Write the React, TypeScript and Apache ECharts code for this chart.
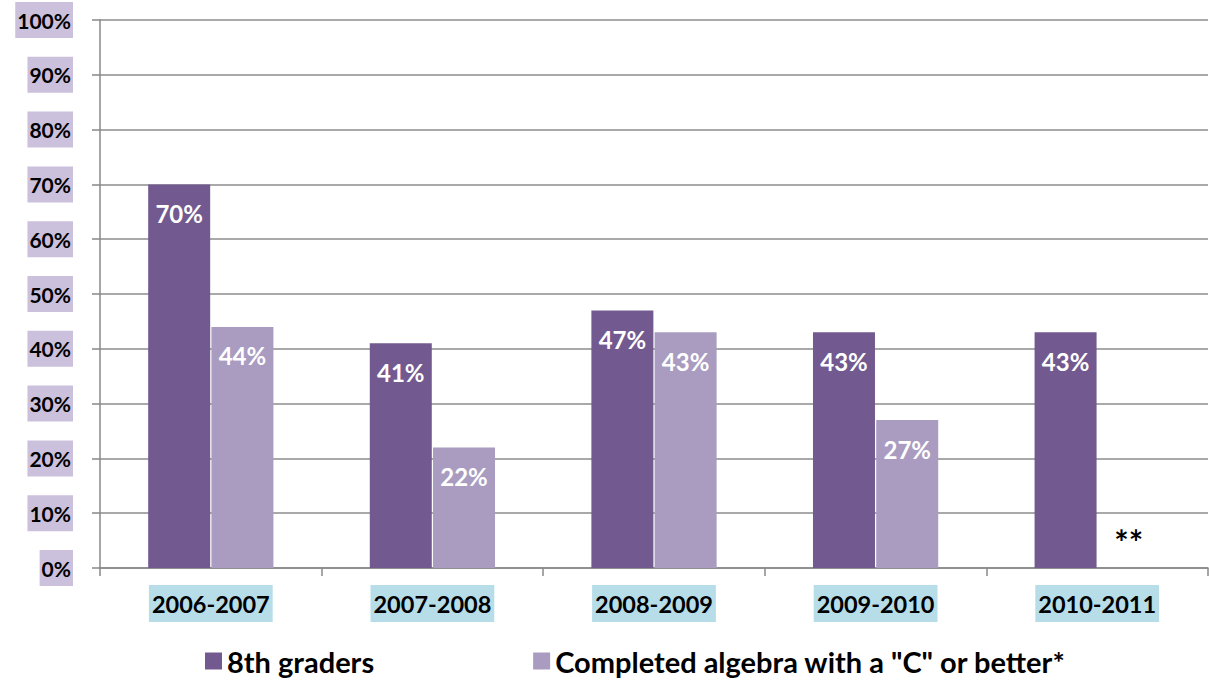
import React, { useEffect, useRef } from "react";
import * as echarts from "echarts";

const categories = ["2006-2007", "2007-2008", "2008-2009", "2009-2010", "2010-2011"];
const eighthGraders = [70, 41, 47, 43, 43];
const completedAlgebra = [44, 22, 43, 27, 0];
const missingLabel = "**";
const seriesNames = ["8th graders", 'Completed algebra with a "C" or better*'];

const FONT = "Lato, 'Open Sans', sans-serif";

export default function App() {
  const ref = useRef<HTMLDivElement>(null);
  useEffect(() => {
    if (!ref.current) return;
    const chart = echarts.init(ref.current, null, { renderer: "svg" });
    const lastIdx = completedAlgebra.length - 1;
    const dataLabel = {
      show: true,
      position: "insideTop",
      distance: 17,
      formatter: "{c}%",
      color: "#fff",
      fontFamily: FONT,
      fontWeight: "bold",
      fontSize: 24,
    };
    chart.setOption({
      animation: false,
      textStyle: { fontFamily: FONT },
      grid: { left: 100, right: 1, top: 20, bottom: 115, containLabel: false },
      legend: {
        left: 200,
        top: 641,
        itemWidth: 17,
        itemHeight: 17,
        itemGap: 159,
        icon: "rect",
        textStyle: {
          fontFamily: FONT,
          fontWeight: "bold",
          fontSize: 29,
          lineHeight: 30,
          color: "#000",
          verticalAlign: "middle",
        },
        data: seriesNames,
      },
      xAxis: {
        type: "category",
        data: categories,
        axisLine: { lineStyle: { color: "#888", width: 1.5 } },
        axisTick: { show: true, length: 8, lineStyle: { color: "#888", width: 1.5 } },
        axisLabel: {
          margin: 17,
          fontFamily: FONT,
          fontWeight: "bold",
          fontSize: 23.5,
          color: "#000",
          backgroundColor: "#b7dde8",
          padding: [6, 3, 6, 3],
          lineHeight: 25,
        },
      },
      yAxis: {
        type: "value",
        min: 0,
        max: 100,
        interval: 10,
        axisLine: { show: true, lineStyle: { color: "#888", width: 1.5 } },
        axisTick: { show: true, length: 8, lineStyle: { color: "#888", width: 1.5 } },
        splitLine: { lineStyle: { color: "#8c8c8c", width: 1.5 } },
        axisLabel: {
          margin: 27,
          formatter: "{value}%",
          fontFamily: FONT,
          fontWeight: "bold",
          fontSize: 21,
          color: "#000",
          backgroundColor: "#ccc1dc",
          padding: [6, 2, 6, 2],
          lineHeight: 24,
        },
      },
      series: [
        {
          name: seriesNames[0],
          type: "bar",
          barWidth: 62,
          barGap: "2%",
          itemStyle: { color: "#725a90" },
          data: eighthGraders,
          label: dataLabel,
        },
        {
          name: seriesNames[1],
          type: "bar",
          barWidth: 62,
          barGap: "2%",
          itemStyle: { color: "#a99cc0" },
          data: completedAlgebra.map((v, i) =>
            i === lastIdx
              ? {
                  value: v,
                  label: {
                    show: true,
                    position: "top",
                    distance: 10,
                    formatter: missingLabel,
                    color: "#000",
                    fontFamily: FONT,
                    fontWeight: "bold",
                    fontSize: 34,
                  },
                }
              : v
          ),
          label: dataLabel,
        },
      ],
    });
    return () => chart.dispose();
  }, []);
  return (
    <div
      ref={ref}
      style={{ position: "fixed", left: 0, top: 0, width: 1209, height: 683, background: "#fff" }}
    />
  );
}
